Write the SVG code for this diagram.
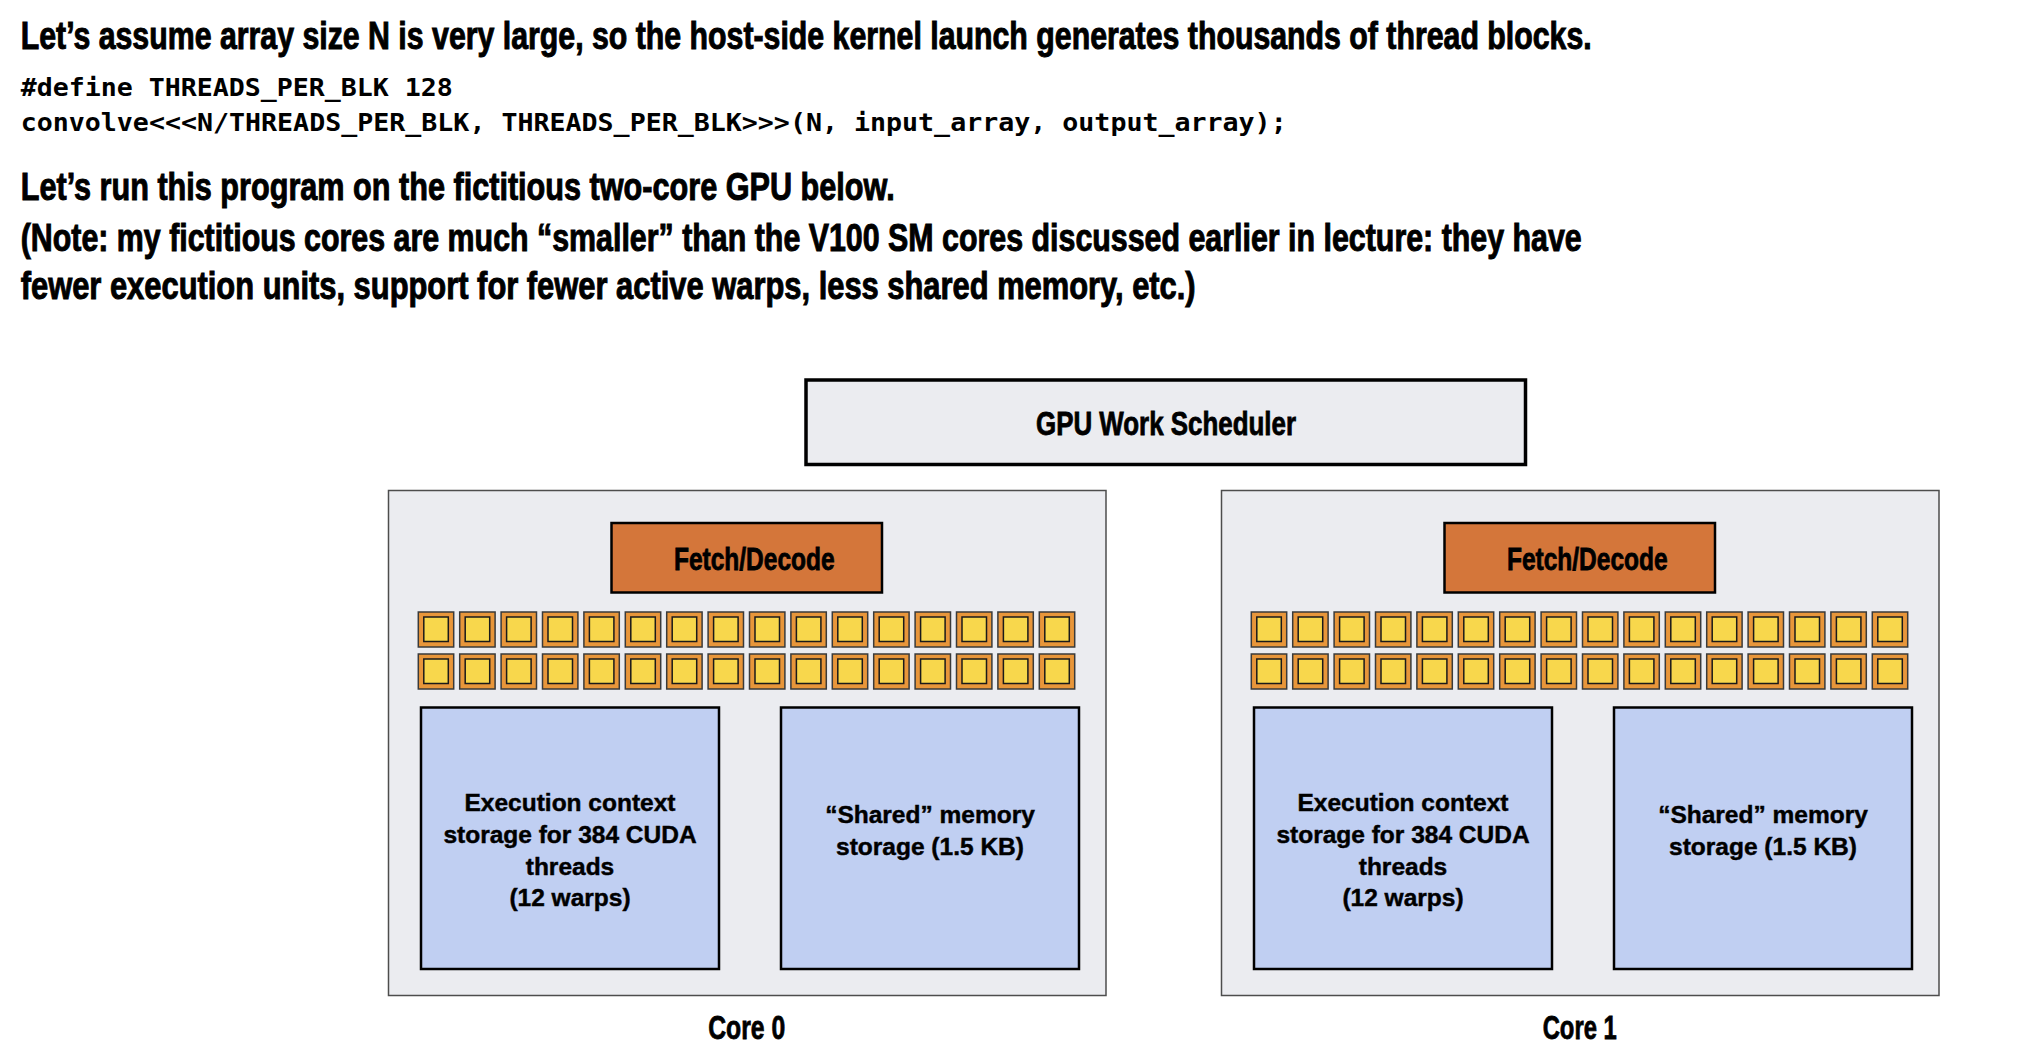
<svg xmlns="http://www.w3.org/2000/svg" xmlns:xlink="http://www.w3.org/1999/xlink" width="2032" height="1052" viewBox="0 0 2032 1052">
<style>
.head{font-family:"Liberation Sans",Arial,sans-serif;font-weight:bold;font-size:39px;fill:#000;stroke:#000;stroke-width:1;paint-order:stroke}
.code{font-family:"DejaVu Sans Mono","Liberation Mono",monospace;font-weight:bold;font-size:25px;fill:#000}
.cond{font-family:"Liberation Sans Narrow","Liberation Sans",Arial,sans-serif;font-weight:bold;fill:#000;text-anchor:middle;stroke:#000;stroke-width:0.8;paint-order:stroke}
.body{font-family:"Liberation Sans",Arial,sans-serif;font-weight:bold;font-size:24.5px;fill:#000;text-anchor:middle;stroke:#000;stroke-width:0.45}
.core{fill:#EBECF0;stroke:#4d4d4d;stroke-width:1.5}
.sched{fill:#EBECF0;stroke:#000;stroke-width:3.5}
.fetch{fill:#D4763A;stroke:#000;stroke-width:2.5}
.ctx{fill:#C0CFF2;stroke:#000;stroke-width:2.5}
.aluo{fill:#E8963A;stroke:#3a3a3a;stroke-width:1.5}
.alui{fill:#F8D74C;stroke:#1a1a1a;stroke-width:1.5}
</style>
<defs>
<g id="alu">
<rect class="aluo" x="0" y="0" width="35.4" height="35"/>
<rect class="alui" x="5.5" y="5" width="24.5" height="24.5"/>
</g>
<g id="alurow">
<use xlink:href="#alu" href="#alu" x="0"/>
<use xlink:href="#alu" href="#alu" x="41.4"/>
<use xlink:href="#alu" href="#alu" x="82.8"/>
<use xlink:href="#alu" href="#alu" x="124.2"/>
<use xlink:href="#alu" href="#alu" x="165.6"/>
<use xlink:href="#alu" href="#alu" x="207"/>
<use xlink:href="#alu" href="#alu" x="248.4"/>
<use xlink:href="#alu" href="#alu" x="289.8"/>
<use xlink:href="#alu" href="#alu" x="331.2"/>
<use xlink:href="#alu" href="#alu" x="372.6"/>
<use xlink:href="#alu" href="#alu" x="414"/>
<use xlink:href="#alu" href="#alu" x="455.4"/>
<use xlink:href="#alu" href="#alu" x="496.8"/>
<use xlink:href="#alu" href="#alu" x="538.2"/>
<use xlink:href="#alu" href="#alu" x="579.6"/>
<use xlink:href="#alu" href="#alu" x="621"/>
</g>
</defs>
<rect x="0" y="0" width="2032" height="1052" fill="#fff"/>

<g id="header">
<text class="head" transform="translate(20.7,49.3) scale(0.72,1)" x="0" y="0" textLength="2181.9" lengthAdjust="spacingAndGlyphs">Let’s assume array size N is very large, so the host-side kernel launch generates thousands of thread blocks.</text>
<text class="code" x="20.7" y="95.5" textLength="432" lengthAdjust="spacingAndGlyphs">#define THREADS_PER_BLK 128</text>
<text class="code" x="20.7" y="131" textLength="1266" lengthAdjust="spacingAndGlyphs">convolve&lt;&lt;&lt;N/THREADS_PER_BLK, THREADS_PER_BLK&gt;&gt;&gt;(N, input_array, output_array);</text>
<text class="head" transform="translate(20.7,200) scale(0.72,1)" x="0" y="0" textLength="1213.9" lengthAdjust="spacingAndGlyphs">Let’s run this program on the fictitious two-core GPU below.</text>
<text class="head" transform="translate(20.7,250.5) scale(0.72,1)" x="0" y="0" textLength="2168.1" lengthAdjust="spacingAndGlyphs">(Note: my fictitious cores are much “smaller” than the V100 SM cores discussed earlier in lecture: they have</text>
<text class="head" transform="translate(20.7,299) scale(0.72,1)" x="0" y="0" textLength="1631.9" lengthAdjust="spacingAndGlyphs">fewer execution units, support for fewer active warps, less shared memory, etc.)</text>
</g>

<g id="scheduler">
<rect class="sched" x="806" y="380" width="719.5" height="84.5"/>
<text class="cond" x="1166" y="435" font-size="33" textLength="260" lengthAdjust="spacingAndGlyphs">GPU Work Scheduler</text>
</g>

<g id="core0">
<rect class="core" x="388.5" y="490.5" width="717.5" height="505"/>
<rect class="fetch" x="611.5" y="523" width="270.5" height="69.5"/>
<text class="cond" x="754.3" y="569.5" font-size="31.5" textLength="160.7" lengthAdjust="spacingAndGlyphs">Fetch/Decode</text>
<use xlink:href="#alurow" href="#alurow" x="418.3" y="612"/>
<use xlink:href="#alurow" href="#alurow" x="418.3" y="654"/>
<rect class="ctx" x="421" y="707.5" width="298" height="261.5"/>
<text class="body" x="570" y="810.7">Execution context</text>
<text class="body" x="570" y="842.8">storage for 384 CUDA</text>
<text class="body" x="570" y="874.6">threads</text>
<text class="body" x="570" y="905.6">(12 warps)</text>
<rect class="ctx" x="781" y="707.5" width="298" height="261.5"/>
<text class="body" x="930" y="823.4">“Shared” memory</text>
<text class="body" x="930" y="855.2">storage (1.5 KB)</text>
<text class="cond" x="746.7" y="1039" font-size="33.5" textLength="77" lengthAdjust="spacingAndGlyphs">Core 0</text>
</g>

<g id="core1" transform="translate(833,0)">
<rect class="core" x="388.5" y="490.5" width="717.5" height="505"/>
<rect class="fetch" x="611.5" y="523" width="270.5" height="69.5"/>
<text class="cond" x="754.3" y="569.5" font-size="31.5" textLength="160.7" lengthAdjust="spacingAndGlyphs">Fetch/Decode</text>
<use xlink:href="#alurow" href="#alurow" x="418.3" y="612"/>
<use xlink:href="#alurow" href="#alurow" x="418.3" y="654"/>
<rect class="ctx" x="421" y="707.5" width="298" height="261.5"/>
<text class="body" x="570" y="810.7">Execution context</text>
<text class="body" x="570" y="842.8">storage for 384 CUDA</text>
<text class="body" x="570" y="874.6">threads</text>
<text class="body" x="570" y="905.6">(12 warps)</text>
<rect class="ctx" x="781" y="707.5" width="298" height="261.5"/>
<text class="body" x="930" y="823.4">“Shared” memory</text>
<text class="body" x="930" y="855.2">storage (1.5 KB)</text>
<text class="cond" x="746.7" y="1039" font-size="33.5" textLength="74" lengthAdjust="spacingAndGlyphs">Core 1</text>
</g>

<g id="connectors"></g>
</svg>
